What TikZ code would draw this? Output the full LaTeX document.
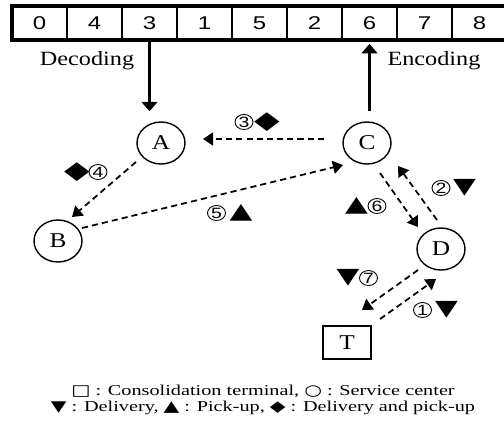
\documentclass[tikz,border=0pt]{standalone}
\usepackage{fontspec}
\setmainfont{Liberation Serif}[FakeStretch=1.2]
\newfontfamily\keyfont{Liberation Serif}[FakeStretch=1.34]
\newfontfamily\symfont{DejaVu Sans}[FakeStretch=1.35]
\newfontfamily\cellfont{Liberation Sans}[FakeStretch=1.3]
\usetikzlibrary{
    arrows.meta,
    shapes.geometric,
    calc,
    positioning
}

\begin{document}
\begin{tikzpicture}[x=0.02cm, y=-0.02cm,
    cell/.style={draw, line width=1.3pt, minimum width=1.1cm, minimum height=0.67cm, inner sep=0pt, font=\cellfont\fontsize{10.5}{12}\selectfont},
    site/.style={draw, ellipse, line width=0.8pt, minimum width=0.96cm, minimum height=0.84cm, inner sep=0pt, font=\fontsize{12}{14}\selectfont},
    hub/.style={draw, rectangle, line width=0.8pt, minimum width=0.96cm, minimum height=0.66cm, inner sep=0pt, font=\fontsize{12}{14}\selectfont},
    flow/.style={line width=1pt, dash pattern=on 3.5pt off 2.3pt, -{Triangle[length=5.7pt, width=7.4pt]}},
    code/.style={line width=1.3pt, -{Triangle[length=5.4pt, width=9pt]}},
    num/.style={draw, ellipse, line width=0.5pt, minimum width=0.36cm, minimum height=0.3cm, inner sep=0pt, font=\cellfont\fontsize{8.5}{10}\selectfont},
    tri/.style={inner sep=0pt, font=\symfont\fontsize{12.5}{14}\selectfont},
    dia/.style={inner sep=0pt, font=\symfont\fontsize{14}{16}\selectfont},
]
\useasboundingbox (0,0) rectangle (504,424);
% permutation string
\foreach \v [count=\i from 0] in {0,4,3,1,5,2,6,7,8} {
    \node[cell] (c\i) at (39.5 + 55*\i, 23) {\v};
}
\draw[line width=2.3pt] (11.7,6.2) rectangle (507,39.7);
\node[font=\fontsize{11.5}{13}\selectfont] (dec) at (87,61) {Decoding};
\node[font=\fontsize{11.5}{13}\selectfont] (enc) at (434,61) {Encoding};

% centers and terminal
\node[site] (A) at (161,143) {A};
\node[site] (B) at (58,241) {B};
\node[site] (C) at (367,143) {C};
\node[site] (D) at (441,249) {D};
\node[hub] (T) at (347,342.5) {T};

\draw[code, shorten >=0.2cm] (c2.south) -- (c2.south |- A.north);
\draw[code, shorten <=0.2cm, shorten >=0.06cm] (c6.south |- C.north) -- (c6.south);

% route
\draw[flow] ($(T)+(33,-23.5)$) -- ($(D)+(-5,30)$);
\draw[flow] ($(D)+(-4,-29)$) -- ($(C)+(31,23)$);
\draw[flow] ($(C)+(-43,-4)$) -- ($(A)+(42,-4)$);
\draw[flow] ($(A)+(-25,19)$) -- ($(B)+(14,-24)$);
\draw[flow] ($(B)+(24,-13)$) -- ($(C)+(-24,22)$);
\draw[flow] ($(C)+(13,30)$) -- ($(D)+(-23,-22)$);
\draw[flow] ($(D)+(-23,21)$) -- ($(T)+(15,-32.5)$);

\node[num] (n1) at (422.5,310) {1};
\node[tri] (s1) at (446.5,310) {▼};
\node[num] (n2) at (441,188) {2};
\node[tri] (s2) at (464.5,188) {▼};
\node[num] (n3) at (244,122) {3};
\node[dia] (s3) at (267,122) {◆};
\node[num] (n4) at (98,172) {4};
\node[dia] (s4) at (77,172) {◆};
\node[num] (n5) at (216.5,213) {5};
\node[tri] (s5) at (241,213) {▲};
\node[num] (n6) at (377,206) {6};
\node[tri] (s6) at (356.5,206) {▲};
\node[num] (n7) at (368.5,278) {7};
\node[tri] (s7) at (348,278) {▼};

% legend
\node[align=center, font=\keyfont\fontsize{8.6}{9.1}\selectfont] (key) at (263,400)
    {{\symfont □} : Consolidation terminal, {\symfont ○} : Service center\\
     {\symfont ▼} : Delivery, {\symfont ▲} : Pick-up, {\symfont ◆} : Delivery and pick-up};
\end{tikzpicture}
\end{document}
